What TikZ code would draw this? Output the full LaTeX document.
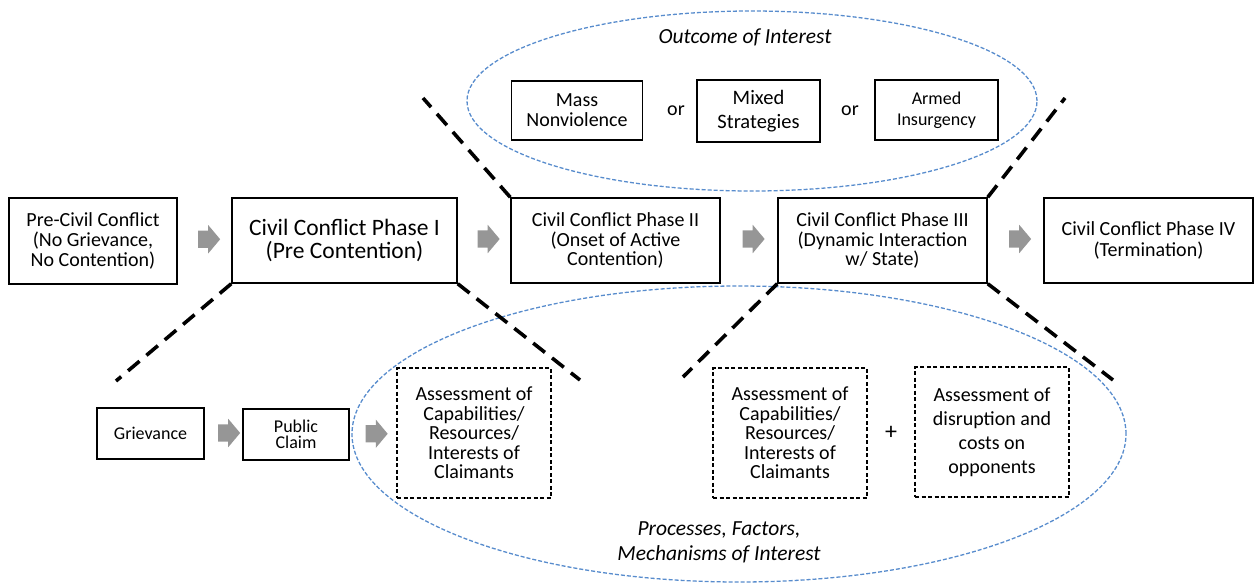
\documentclass[tikz,border=0pt]{standalone}
\usepackage{fontspec}
\setmainfont{Carlito}
\usetikzlibrary{shapes.arrows,shapes.geometric,calc}
\definecolor{ellblue}{RGB}{88,140,205}
\definecolor{arrgray}{RGB}{150,150,150}
\begin{document}
\begin{tikzpicture}[x=1pt,y=-1pt,
  box/.style={draw, line width=1.5pt, align=center, inner sep=0pt},
  dbox/.style={draw, line width=1.4pt, dash pattern=on 4pt off 2.5pt, align=center, inner sep=0pt},
  garrow/.style={single arrow, fill=arrgray, draw=none, inner xsep=0pt, inner ysep=8.5pt,
    minimum height=22pt, single arrow head extend=5.5pt, single arrow tip angle=100},
  cut/.style={line width=3.6pt, dash pattern=on 15pt off 9pt},
  oval/.style={ellipse, draw=ellblue, line width=1.3pt, dash pattern=on 4pt off 2pt, inner sep=0pt},
  lbl/.style={font=\fontsize{21.5}{25}\selectfont\itshape, align=center, inner sep=0pt},
  t20/.style={font=\fontsize{20}{19.5}\selectfont},
  t18/.style={font=\fontsize{18}{16.5}\selectfont}
]
\useasboundingbox (0,0) rectangle (1256,584);

% ellipses
\node[oval, minimum width=570pt, minimum height=180pt] (outE) at (752,101) {};
\node[oval, minimum width=774pt, minimum height=296pt] (procE) at (739,434) {};

% labels
\node[lbl] (outL) at (745,37) {Outcome of Interest};
\node[lbl] (procL) at (719,542) {Processes, Factors,\\Mechanisms of Interest};

% top outcome boxes
\node[box, t20, font=\fontsize{20}{20}\selectfont, minimum width=131pt, minimum height=59pt] (mass) at (577,110.5) {Mass\\Nonviolence};
\node[font=\fontsize{20}{20}\selectfont, inner sep=0pt] (or1) at (676,111) {or};
\node[box, font=\fontsize{20.5}{24}\selectfont, minimum width=123pt, minimum height=62pt] (mixed) at (758.5,111) {Mixed\\Strategies};
\node[font=\fontsize{20}{20}\selectfont, inner sep=0pt] (or2) at (850,111) {or};
\node[box, font=\fontsize{18}{21}\selectfont, minimum width=123pt, minimum height=60pt] (armed) at (936.5,110) {Armed\\Insurgency};

% main row
\node[box, font=\fontsize{20}{20}\selectfont, minimum width=168pt, minimum height=86pt] (pre) at (93,241) {Pre-Civil Conflict\\(No Grievance,\\No Contention)};
\node[box, font=\fontsize{23.5}{22.5}\selectfont, minimum width=225pt, minimum height=85pt] (p1) at (344.5,240.5) {Civil Conflict Phase I\\(Pre Contention)};
\node[box, t20, minimum width=209pt, minimum height=85pt] (p2) at (615.5,240.5) {Civil Conflict Phase II\\(Onset of Active\\Contention)};
\node[box, t20, minimum width=209pt, minimum height=85pt] (p3) at (882.5,240.5) {Civil Conflict Phase III\\(Dynamic Interaction\\w/ State)};
\node[box, font=\fontsize{20}{21}\selectfont, minimum width=209pt, minimum height=85pt] (p4) at (1148.5,240.5) {Civil Conflict Phase IV\\(Termination)};

\node[garrow] (a1) at ($(pre.east)!0.5!(p1.west)+(1,-1.5)$) {};
\node[garrow] (a2) at ($(p1.east)!0.5!(p2.west)+(1,-1.5)$) {};
\node[garrow] (a3) at ($(p2.east)!0.5!(p3.west)+(1,-1.5)$) {};
\node[garrow] (a4) at ($(p3.east)!0.5!(p4.west)+(1,-1.5)$) {};

% bottom row
\node[box, t18, minimum width=107pt, minimum height=51pt] (griev) at (150.5,433.5) {Grievance};
\node[box, t18, minimum width=106pt, minimum height=51pt] (pub) at (296,434.5) {Public\\Claim};
\node[dbox, t20, minimum width=154pt, minimum height=130pt] (asA) at (474,433) {Assessment of\\Capabilities/\\Resources/\\Interests of\\Claimants};
\node[dbox, t20, minimum width=154pt, minimum height=130pt] (asB) at (790,433) {Assessment of\\Capabilities/\\Resources/\\Interests of\\Claimants};
\node[font=\fontsize{24}{24}\selectfont, inner sep=0pt] (plus) at (891,433) {+};
\node[dbox, font=\fontsize{20}{24}\selectfont, minimum width=154pt, minimum height=130pt] (asC) at (992,432) {Assessment of\\disruption and\\costs on\\opponents};

\node[garrow] (b1) at ($(griev.east)!0.5!(pub.west)+(2,-1)$) {};
\node[garrow] (b2) at ($(pub.east)!0.5!(asA.west)$) {};

% cut lines
\coordinate (c1) at (423,98);
\coordinate (c2) at (1065,98);
\coordinate (c3) at (116,381);
\coordinate (c4) at (580,380);
\coordinate (c5) at (683,377);
\coordinate (c6) at (1113,380);
\draw[cut] (p2.north west) -- (c1);
\draw[cut] (p3.north east) -- (c2);
\draw[cut] (p1.south west) -- (c3);
\draw[cut] (p1.south east) -- (c4);
\draw[cut] (p3.south west) -- (c5);
\draw[cut] (p3.south east) -- (c6);
\end{tikzpicture}
\end{document}
